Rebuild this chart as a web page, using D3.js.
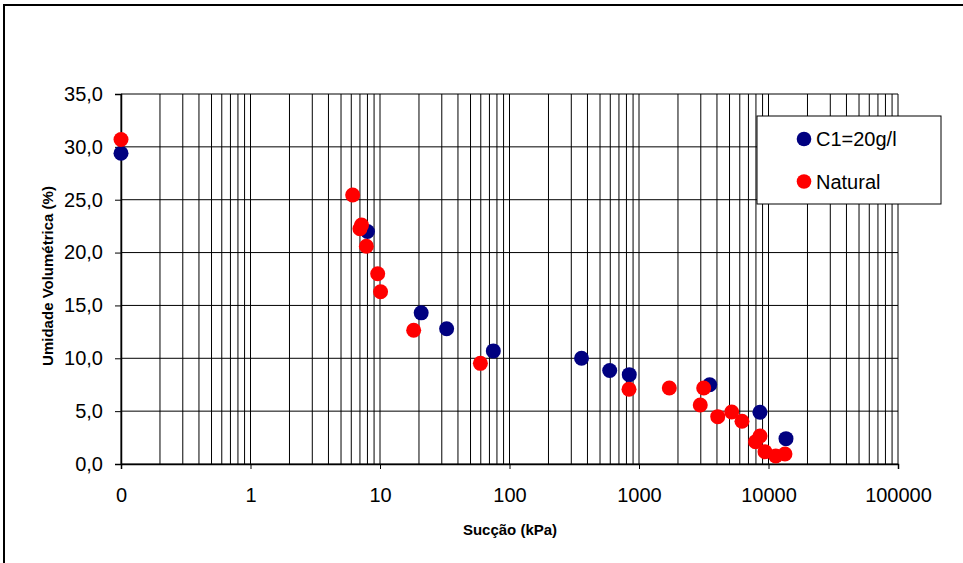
<!DOCTYPE html>
<html>
<head>
<meta charset="utf-8">
<script src="https://cdn.jsdelivr.net/npm/d3@7"></script>
<style>
  body { margin: 0; background: #fff; }
  text { font-family: "Liberation Sans", Arial, sans-serif; }
</style>
</head>
<body>
<div id="container"></div>
<script>
let w = 963;
let h = 563;

// Succao (kPa) / Umidade volumetrica (%)
let c1X = [0.1, 8, 20.8, 32.7, 75, 360, 594, 841, 3515, 8590, 13650];
let c1Y = [29.4, 22.0, 14.3, 12.8, 10.7, 10.0, 8.85, 8.45, 7.5, 4.9, 2.4];

let natX = [0.1, 6.15, 7.2, 7.0, 7.85, 9.6, 10.1, 18.2, 59.6, 837, 1714, 2972, 3160, 4055, 5200, 6240, 7940, 8600, 9400, 11380, 13400];
let natY = [30.7, 25.45, 22.6, 22.25, 20.6, 18.0, 16.3, 12.65, 9.52, 7.07, 7.19, 5.58, 7.19, 4.48, 4.92, 4.04, 2.1, 2.65, 1.16, 0.76, 0.95];

let xTicks = [0.1, 1, 10, 100, 1000, 10000, 100000];
let xTickLabels = ["0", "1", "10", "100", "1000", "10000", "100000"];
let yTicks = [0, 5, 10, 15, 20, 25, 30, 35];

let seriesNames = ["C1=20g/l", "Natural"];
let seriesColors = ["#000080", "#ff0000"];

let margin = {left: 121, right: 65, top: 94, bottom: 99};

let svg = d3.select("#container").append("svg")
            .attr("width", w)
            .attr("height", h);

// outer frame
svg.append("rect")
   .attr("x", 4).attr("y", 5)
   .attr("width", w + 20).attr("height", h + 20)
   .attr("fill", "none")
   .attr("stroke", "#000")
   .attr("stroke-width", 2);

let xScale = d3.scaleLog()
               .domain([0.1, 100000])
               .range([margin.left, w - margin.right]);

let yScale = d3.scaleLinear()
               .domain([0, 35])
               .range([h - margin.bottom, margin.top]);

// minor log grid
let gridX = [];
for (let e = -1; e < 5; e++) {
  for (let m = 1; m <= 9; m++) gridX.push(m * Math.pow(10, e));
}
gridX.push(100000);

let grid = svg.append("g").attr("class", "grid");

grid.selectAll("line.v")
    .data(gridX)
    .enter()
    .append("line")
    .attr("class", "v")
    .attr("x1", d => xScale(d)).attr("x2", d => xScale(d))
    .attr("y1", yScale(0)).attr("y2", yScale(35))
    .attr("stroke", "#000")
    .attr("stroke-width", 1);

grid.selectAll("line.h")
    .data(yTicks)
    .enter()
    .append("line")
    .attr("class", "h")
    .attr("x1", xScale.range()[0]).attr("x2", xScale.range()[1])
    .attr("y1", d => yScale(d)).attr("y2", d => yScale(d))
    .attr("stroke", "#000")
    .attr("stroke-width", 1);

let xAxis = d3.axisBottom(xScale)
              .tickValues(xTicks)
              .tickSize(5)
              .tickPadding(19)
              .tickFormat((d, i) => xTickLabels[i]);

let gx = svg.append("g")
            .attr("transform", `translate(0,${yScale(0)})`)
            .call(xAxis);

let yAxis = d3.axisLeft(yScale)
              .tickValues(yTicks)
              .tickSize(6)
              .tickPadding(12)
              .tickFormat(d => d.toFixed(1).replace(".", ","));

let gy = svg.append("g")
            .attr("transform", `translate(${xScale(0.1)},0)`)
            .call(yAxis);

[gx, gy].forEach(g => {
  g.select(".domain").attr("stroke", "#000").attr("stroke-width", 1.5);
  g.selectAll(".tick line").attr("stroke", "#000");
  g.selectAll(".tick text")
   .attr("font-size", 20)
   .attr("fill", "#000")
   .style("font-family", "'Liberation Sans', Arial, sans-serif");
});

// axis titles
svg.append("text")
   .attr("x", 510)
   .attr("y", 535)
   .attr("text-anchor", "middle")
   .attr("font-size", 15)
   .attr("font-weight", "bold")
   .text("Sucção (kPa)");

svg.append("text")
   .attr("transform", "translate(53,276) rotate(-90)")
   .attr("text-anchor", "middle")
   .attr("font-size", 15)
   .attr("font-weight", "bold")
   .text("Umidade Volumétrica (%)");

// points
let c1 = c1X.map((x, i) => ({x: x, y: c1Y[i]}));
let nat = natX.map((x, i) => ({x: x, y: natY[i]}));

svg.append("g")
   .selectAll("circle")
   .data(c1)
   .enter()
   .append("circle")
   .attr("cx", d => xScale(d.x))
   .attr("cy", d => yScale(d.y))
   .attr("r", 7.5)
   .attr("fill", seriesColors[0]);

svg.append("g")
   .selectAll("circle")
   .data(nat)
   .enter()
   .append("circle")
   .attr("cx", d => xScale(d.x))
   .attr("cy", d => yScale(d.y))
   .attr("r", 7.5)
   .attr("fill", seriesColors[1]);

// legend
let legend = svg.append("g").attr("transform", "translate(757,116)");

legend.append("rect")
      .attr("width", 184)
      .attr("height", 88)
      .attr("fill", "#fff")
      .attr("stroke", "#000")
      .attr("stroke-width", 1);

let li = legend.selectAll("g.item")
               .data(seriesNames)
               .enter()
               .append("g")
               .attr("class", "item")
               .attr("transform", (d, i) => `translate(47,${23 + i * 42.5})`);

li.append("circle")
  .attr("r", 7.3)
  .attr("fill", (d, i) => seriesColors[i]);

li.append("text")
  .attr("x", 12)
  .attr("y", 7)
  .attr("font-size", 20)
  .text(d => d);
</script>
</body>
</html>
